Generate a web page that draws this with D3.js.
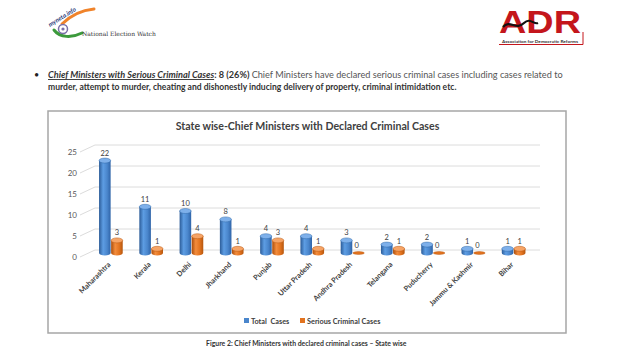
<!DOCTYPE html>
<html>
<head>
<meta charset="utf-8">
<script src="https://cdn.jsdelivr.net/npm/d3@7"></script>
<style>
  body { margin: 0; background: #fff; }
  svg { display: block; font-family: Lato, "Open Sans", sans-serif; }
</style>
</head>
<body>
<svg id="chart" width="640" height="360"></svg>
<script>
// data
const states = ["Maharashtra", "Kerala", "Delhi", "Jharkhand", "Punjab", "Uttar Pradesh",
                "Andhra Pradesh", "Telangana", "Puducherry", "Jammu & Kashmir", "Bihar"];
const totalCases = [22, 11, 10, 8, 4, 4, 3, 2, 2, 1, 1];
const seriousCases = [3, 1, 4, 1, 3, 1, 0, 1, 0, 0, 1];
const seriesNames = ["Total  Cases", "Serious Criminal Cases"];
const yTicks = [0, 5, 10, 15, 20, 25];

const svg = d3.select("#chart");
const textCol = "#404040";

// scale the font so a line fills the given width
function fit(sel, width) {
    let fs = parseFloat(sel.attr("font-size"));
    let w = sel.node().getComputedTextLength();
    sel.attr("font-size", fs * width / w);
}

// ---- header logos ----
let newLogo = svg.append("g");
newLogo.append("path")
    .attr("d", "M62,24 C72,14 84,10 94,9")
    .attr("fill", "none").attr("stroke", "#f0832a").attr("stroke-width", 3).attr("stroke-linecap", "round");
newLogo.append("path")
    .attr("d", "M54,30 C60,38 72,38 82,33")
    .attr("fill", "none").attr("stroke", "#3c9a3c").attr("stroke-width", 3).attr("stroke-linecap", "round");
newLogo.append("circle").attr("cx", 63).attr("cy", 29).attr("r", 4.5)
    .attr("fill", "#fff").attr("stroke", "#7a6fa8").attr("stroke-width", 1.5);
newLogo.append("circle").attr("cx", 63).attr("cy", 29).attr("r", 1.6).attr("fill", "#7a6fa8");
newLogo.append("text")
    .attr("transform", "translate(50,27) rotate(-32)")
    .attr("font-size", 6.2).attr("font-style", "italic").attr("font-weight", "bold")
    .attr("fill", "#2a3a7a").text("myneta.info");
newLogo.append("text")
    .attr("x", 82).attr("y", 36)
    .attr("font-size", 9).attr("fill", "#333")
    .attr("font-family", "'DejaVu Serif', serif")
    .text("National Election Watch")
    .call(fit, 74);

let adr = svg.append("g");
adr.append("text")
    .attr("x", 499).attr("y", 33)
    .attr("font-size", 31).attr("font-weight", "bold")
    .attr("font-family", "'Liberation Sans', Arial, sans-serif")
    .attr("fill", "#c4161c")
    .attr("textLength", 82).attr("lengthAdjust", "spacingAndGlyphs")
    .text("ADR");
adr.append("path")
    .attr("d", "M503,27 C510,19 516,31 524,23 C530,17 534,25 538,23")
    .attr("fill", "none").attr("stroke", "#111").attr("stroke-width", 2.2);
adr.append("line").attr("x1", 499).attr("x2", 583).attr("y1", 44.5).attr("y2", 44.5)
    .attr("stroke", "#c4161c").attr("stroke-width", 1);
adr.append("line").attr("x1", 583).attr("x2", 583).attr("y1", 32).attr("y2", 44.5)
    .attr("stroke", "#c4161c").attr("stroke-width", 1);
adr.append("text")
    .attr("x", 502).attr("y", 42.5)
    .attr("font-size", 3.4).attr("font-weight", "bold").attr("fill", "#333")
    .attr("textLength", 76).attr("lengthAdjust", "spacingAndGlyphs")
    .text("Association for Democratic Reforms");

// ---- bullet paragraph ----
svg.append("text").attr("x", 34).attr("y", 78).attr("font-size", 9).attr("fill", "#222").text("•");
let line1 = svg.append("text").attr("x", 48).attr("y", 78).attr("font-size", 9).attr("fill", "#333");
line1.append("tspan").attr("font-weight", "bold").attr("font-style", "italic")
    .attr("text-decoration", "underline").text("Chief Ministers with Serious Criminal Cases");
line1.append("tspan").attr("font-weight", "bold").text(": 8 (26%) ");
line1.append("tspan").attr("fill", "#555")
    .text("Chief Ministers have declared serious criminal cases including cases related to");
fit(line1, 515);
let line2 = svg.append("text").attr("x", 48).attr("y", 90).attr("font-size", 9)
    .attr("font-weight", "bold").attr("fill", "#333")
    .text("murder, attempt to murder, cheating and dishonestly inducing delivery of property, criminal intimidation etc.");
fit(line2, 409);

// ---- chart frame ----
svg.append("rect")
    .attr("x", 48).attr("y", 111).attr("width", 518).attr("height", 222)
    .attr("fill", "#fff").attr("stroke", "#a6a6a6").attr("stroke-width", 1.5);

let title = svg.append("text")
    .attr("x", 307.5).attr("y", 130)
    .attr("text-anchor", "middle")
    .attr("font-size", 12).attr("font-weight", "bold").attr("fill", textCol)
    .text("State wise-Chief Ministers with Declared Criminal Cases");
fit(title, 264);

// ---- scales ----
const y = d3.scaleLinear().domain([0, 25]).range([253, 148]);
const x = d3.scaleBand().domain(states).range([91, 534]).paddingInner(0.4).paddingOuter(0.2);
const xs = d3.scaleBand().domain(seriesNames).range([0, x.bandwidth()]);

// gridlines drawn on the back wall, with the short slanted side wall
const depthX = 15, depthY = 7, frontOff = 4;
svg.append("g").selectAll("path")
    .data(yTicks)
    .join("path")
    .attr("d", d => {
        let yf = y(d) + frontOff;
        return `M80,${yf} L${80 + depthX},${yf - depthY} L540,${yf - depthY}`;
    })
    .attr("fill", "none").attr("stroke", "#dcdcdc").attr("stroke-width", 1);

// y axis labels
const yAxis = svg.append("g")
    .attr("transform", `translate(77,${frontOff})`)
    .call(d3.axisLeft(y).tickValues(yTicks).tickSize(0).tickPadding(0));
yAxis.select(".domain").remove();
yAxis.selectAll("text").attr("font-size", 8).attr("fill", "#595959").attr("font-family", "Lato, sans-serif");

// gradients for the cylinders
const defs = svg.append("defs");
const palettes = [
    { id: "gBlue", stops: ["#2c5c98", "#5d9de3", "#4a86cc", "#2f64a8"], top: "#7eb0ea", edge: "#336aa8" },
    { id: "gOrange", stops: ["#a94c0b", "#f38c3c", "#e2731f", "#b5560e"], top: "#f6a466", edge: "#b8570f" }
];
palettes.forEach(p => {
    let g = defs.append("linearGradient").attr("id", p.id).attr("x1", 0).attr("x2", 1).attr("y1", 0).attr("y2", 0);
    [0, 0.35, 0.7, 1].forEach((o, i) => g.append("stop").attr("offset", o).attr("stop-color", p.stops[i]));
});

// flatten data into bars
const bars = [];
states.forEach((s, i) => {
    [totalCases[i], seriousCases[i]].forEach((v, k) => {
        bars.push({ state: s, series: seriesNames[k], k: k, value: v });
    });
});

const ry = 2.5;
const barG = svg.append("g").selectAll("g")
    .data(bars)
    .join("g");

barG.each(function(d) {
    let g = d3.select(this);
    let pal = palettes[d.k];
    let w = xs.bandwidth() - 0.5;
    let xl = x(d.state) + xs(d.series);
    let xr = xl + w;
    let cx = xl + w / 2;
    let yb = y(0);
    let yt = y(d.value);
    if (d.value > 0) {
        g.append("path")
            .attr("d", `M${xl},${yt} L${xl},${yb} A${w / 2},${ry} 0 0 0 ${xr},${yb} L${xr},${yt} Z`)
            .attr("fill", `url(#${pal.id})`);
    }
    g.append("ellipse")
        .attr("cx", cx).attr("cy", yt)
        .attr("rx", w / 2).attr("ry", d.value > 0 ? ry : 1.4)
        .attr("fill", d.value > 0 ? pal.top : pal.stops[2])
        .attr("stroke", pal.edge).attr("stroke-width", 0.5);
    g.append("text")
        .attr("x", cx + (d.value === 0 ? -2 : 0)).attr("y", yt - 5)
        .attr("text-anchor", "middle")
        .attr("font-size", 7.5).attr("fill", textCol)
        .text(d.value);
});

// category labels
svg.append("g").selectAll("text")
    .data(states)
    .join("text")
    .attr("transform", d => `translate(${x(d) + x.bandwidth() / 2},265) rotate(-45)`)
    .attr("text-anchor", "end")
    .attr("font-size", 7.3).attr("font-weight", "bold").attr("fill", textCol)
    .text(d => d);

// legend
const legendX = [244, 300];
const legend = svg.append("g").selectAll("g")
    .data(seriesNames)
    .join("g")
    .attr("transform", (d, i) => `translate(${legendX[i]},318)`);
legend.append("rect").attr("width", 5).attr("height", 5)
    .attr("fill", (d, i) => i === 0 ? "#4a86cc" : "#e2731f");
legend.append("text").attr("x", 7).attr("y", 5.5)
    .attr("font-size", 7.3).attr("font-weight", "bold").attr("fill", textCol)
    .attr("xml:space", "preserve")
    .style("white-space", "pre")
    .text(d => d);

// caption
let caption = svg.append("text")
    .attr("x", 206).attr("y", 346)
    .attr("font-size", 7).attr("font-weight", "bold").attr("fill", "#333")
    .text("Figure 2: Chief Ministers with declared criminal cases – State wise");
fit(caption, 201);
</script>
</body>
</html>
